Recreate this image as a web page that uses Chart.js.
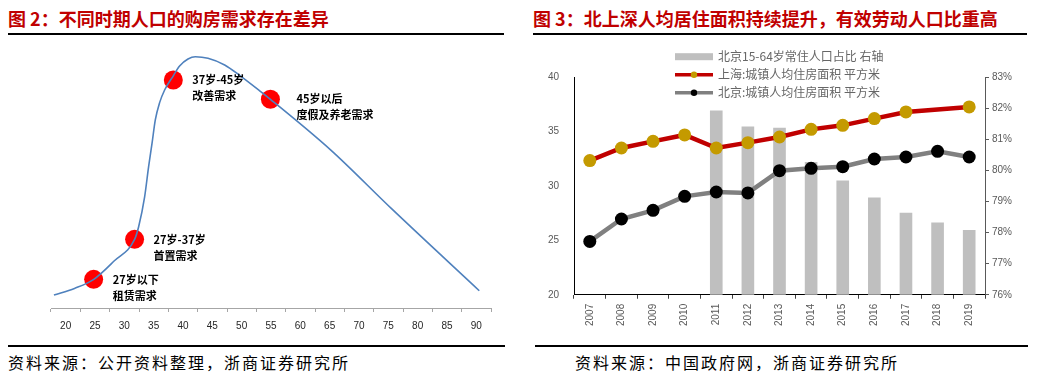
<!DOCTYPE html>
<html>
<head>
<meta charset="utf-8">
<script src="https://cdn.jsdelivr.net/npm/chart.js@4.4.1/dist/chart.umd.min.js"></script>
<style>
  body { margin: 0; background: #fff; width: 1038px; height: 380px; position: relative; overflow: hidden; font-family: "Noto Sans CJK SC", sans-serif; }
  .title { position: absolute; top: 6px; font-size: 18px; font-weight: bold; color: #C00000; white-space: nowrap; line-height: 24px; }
  .rule { position: absolute; background: #000; }
  .src { position: absolute; top: 351px; font-size: 16px; letter-spacing: 2px; color: #000; white-space: nowrap; line-height: 22px; }
  canvas { position: absolute; }
</style>
</head>
<body>
<div class="title" style="left:8px">图 2：不同时期人口的购房需求存在差异</div>
<div class="rule" style="left:8px;top:33px;width:496px;height:2px"></div>
<div class="title" style="left:533px">图 3：北上深人均居住面积持续提升，有效劳动人口比重高</div>
<div class="rule" style="left:533px;top:33px;width:494px;height:2px"></div>

<canvas id="ageChart" width="442" height="292" style="left:50px;top:48px"></canvas>
<canvas id="areaChart" width="478" height="290" style="left:545px;top:50px"></canvas>

<div class="rule" style="left:8px;top:345px;width:497px;height:1.5px"></div>
<div class="rule" style="left:535px;top:345px;width:493px;height:1.5px"></div>
<div class="src" style="left:8px">资料来源：公开资料整理，浙商证券研究所</div>
<div class="src" style="left:575px">资料来源：中国政府网，浙商证券研究所</div>

<script>
// ---- 图2: 购房需求曲线 ----
const ageTicks = ["20", "25", "30", "35", "40", "45", "50", "55", "60", "65", "70", "75", "80", "85", "90"];
const curveAge = [18, 21.5, 24.8, 28.3, 31.75, 32.44, 33.46, 34.14, 34.72, 35.28, 36.0, 36.87, 38.35, 39.42, 40.85, 42.1, 44.26, 47.1, 49.93, 53.3, 54.9, 65.2, 75.5, 90.5];
const curveDemand = [5.0, 7.6, 11.1, 18.3, 26.6, 31.5, 43.1, 54.8, 63.8, 72.9, 79.5, 84.5, 90.0, 93.8, 96.5, 97.4, 96.8, 94.2, 89.7, 83.8, 80.9, 61.2, 38.6, 6.7];
const dotAge = [24.77, 31.75, 38.35, 54.9];
const dotDemand = [11.1, 26.6, 88.4, 80.9];
const stageTop = ["27岁以下", "27岁-37岁", "37岁-45岁", "45岁以后"];
const stageBottom = ["租赁需求", "首置需求", "改善需求", "度假及养老需求"];

// ---- 图3: 人均住房面积 ----
const years = ["2007", "2008", "2009", "2010", "2011", "2012", "2013", "2014", "2015", "2016", "2017", "2018", "2019"];
const bjWorkShare = [null, null, null, null, 81.92, 81.41, 81.37, 80.27, 79.67, 79.13, 78.64, 78.32, 78.08];
const shArea = [32.32, 33.48, 34.09, 34.68, 33.48, 33.97, 34.49, 35.19, 35.56, 36.18, 36.79, null, 37.25];
const bjArea = [24.9, 26.96, 27.75, 29.04, 29.44, 29.35, 31.4, 31.61, 31.76, 32.47, 32.65, 33.17, 32.65];
const seriesNames = ["北京15-64岁常住人口占比 右轴", "上海:城镇人均住房面积 平方米", "北京:城镇人均住房面积 平方米"];

const xy = (xs, ys) => xs.map((x, i) => ({ x, y: ys[i] }));

const stageText = {
  id: "stageText",
  afterDatasetsDraw(chart) {
    const ctx = chart.ctx;
    const meta = chart.getDatasetMeta(1);
    ctx.save();
    ctx.font = 'bold 11px "Noto Sans CJK SC"';
    ctx.fillStyle = "#000";
    ctx.textBaseline = "middle";
    meta.data.forEach((pt, i) => {
      const dx = i === 3 ? 26 : 19;
      ctx.fillText(stageTop[i], pt.x + dx, pt.y);
      ctx.fillText(stageBottom[i], pt.x + dx, pt.y + 16);
    });
    ctx.restore();
  }
};

const topLegend = {
  id: "topLegend",
  afterDraw(chart) {
    const ctx = chart.ctx;
    const x0 = 130, y0 = 6.7, row = 18, w = 38;
    ctx.save();
    ctx.font = '12px "Noto Sans CJK SC"';
    ctx.textBaseline = "middle";
    chart.data.datasets.forEach((ds, i) => {
      const y = y0 + row * i;
      if (ds.type === "bar") {
        ctx.fillStyle = ds.backgroundColor;
        ctx.fillRect(x0, y - 3.5, w, 7);
      } else {
        ctx.strokeStyle = ds.borderColor;
        ctx.lineWidth = 3.5;
        ctx.beginPath();
        ctx.moveTo(x0, y);
        ctx.lineTo(x0 + w, y);
        ctx.stroke();
        ctx.fillStyle = ds.pointBackgroundColor;
        ctx.beginPath();
        ctx.arc(x0 + w / 2, y, 3.2, 0, Math.PI * 2);
        ctx.fill();
      }
      ctx.fillStyle = "#666";
      ctx.fillText(ds.label, x0 + w + 5, y);
    });
    ctx.restore();
  }
};

new Chart(document.getElementById("ageChart"), {
  type: "line",
  data: {
    labels: ageTicks,
    datasets: [
      {
        data: xy(curveAge, curveDemand),
        xAxisID: "xv",
        borderColor: "#4F81BD",
        borderWidth: 1.6,
        pointRadius: 0,
        cubicInterpolationMode: "monotone",
        fill: false
      },
      {
        data: xy(dotAge, dotDemand),
        xAxisID: "xv",
        showLine: false,
        pointRadius: 9.5,
        pointHoverRadius: 9.5,
        pointBackgroundColor: "#FF0000",
        pointBorderWidth: 0,
        clip: false
      }
    ]
  },
  options: {
    responsive: false,
    animation: false,
    events: [],
    layout: { autoPadding: false, padding: { left: 1, right: 1, top: 2, bottom: 0 } },
    plugins: { legend: { display: false }, tooltip: { enabled: false } },
    scales: {
      x: {
        type: "category",
        offset: true,
        grid: { offset: true, drawOnChartArea: false, tickLength: 4, color: "#A6A6A6" },
        border: { color: "#A6A6A6" },
        ticks: { color: "#262626", font: { size: 10 }, padding: 8, autoSkip: false, maxRotation: 0 }
      },
      xv: { type: "linear", display: false, min: 17.5, max: 92.5 },
      y: { display: false, min: 0, max: 100 }
    }
  },
  plugins: [stageText]
});

new Chart(document.getElementById("areaChart"), {
  type: "bar",
  data: {
    labels: years,
    datasets: [
      {
        type: "bar",
        label: seriesNames[0],
        data: bjWorkShare,
        yAxisID: "y1",
        backgroundColor: "#BFBFBF",
        barPercentage: 0.5,
        categoryPercentage: 0.8,
        order: 3
      },
      {
        type: "line",
        label: seriesNames[1],
        data: shArea,
        yAxisID: "y",
        borderColor: "#C00000",
        borderWidth: 4.5,
        pointRadius: 6.5,
        pointBackgroundColor: "#C49A00",
        pointBorderWidth: 0,
        spanGaps: true,
        order: 1
      },
      {
        type: "line",
        label: seriesNames[2],
        data: bjArea,
        yAxisID: "y",
        borderColor: "#808080",
        borderWidth: 4.5,
        pointRadius: 6.5,
        pointBackgroundColor: "#000000",
        pointBorderWidth: 0,
        order: 2
      }
    ]
  },
  options: {
    responsive: false,
    animation: false,
    events: [],
    layout: { autoPadding: false, padding: { top: 27, bottom: 9, left: 0, right: 0 } },
    plugins: { legend: { display: false }, tooltip: { enabled: false } },
    scales: {
      x: {
        grid: { drawOnChartArea: false, tickLength: 4, color: "#404040" },
        border: { color: "#000" },
        ticks: { color: "#595959", font: { size: 10 }, minRotation: 90, maxRotation: 90, padding: 5, autoSkip: false }
      },
      y: {
        position: "left",
        min: 20,
        max: 40,
        ticks: { stepSize: 5, color: "#595959", font: { size: 10 }, padding: 15 },
        grid: { drawOnChartArea: false, drawTicks: false },
        border: { color: "#000" },
        afterFit(s) { s.width = 29; }
      },
      y1: {
        position: "right",
        min: 76,
        max: 83,
        ticks: { stepSize: 1, color: "#595959", font: { size: 10 }, callback: (v) => v + "%" },
        grid: { drawOnChartArea: false, tickLength: 4, color: "#595959" },
        border: { color: "#595959" },
        afterFit(s) { s.width = 38; }
      }
    }
  },
  plugins: [topLegend]
});
</script>
</body>
</html>
